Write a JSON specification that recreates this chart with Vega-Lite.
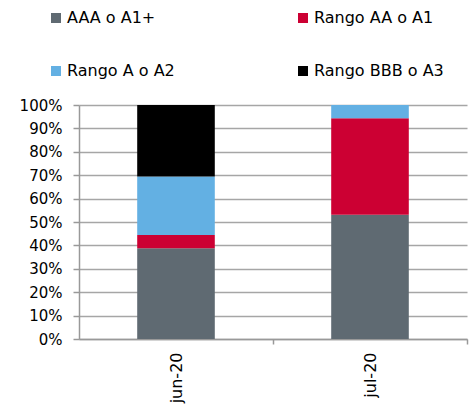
{
  "$schema": "https://vega.github.io/schema/vega-lite/v6.json",
  "width": 388,
  "height": 234,
  "autosize": {"type": "none"},
  "padding": {"left": 79, "top": 105, "right": 2, "bottom": 67},
  "background": "white",
  "config": {
    "view": {"stroke": null},
    "font": "DejaVu Sans"
  },
  "data": {
    "values": [
      {"mes": "jun-20", "rango": "AAA o A1+", "orden": 1, "valor": 0.388},
      {"mes": "jun-20", "rango": "Rango AA o A1", "orden": 2, "valor": 0.056},
      {"mes": "jun-20", "rango": "Rango A o A2", "orden": 3, "valor": 0.250},
      {"mes": "jun-20", "rango": "Rango BBB o A3", "orden": 4, "valor": 0.306},
      {"mes": "jul-20", "rango": "AAA o A1+", "orden": 1, "valor": 0.531},
      {"mes": "jul-20", "rango": "Rango AA o A1", "orden": 2, "valor": 0.412},
      {"mes": "jul-20", "rango": "Rango A o A2", "orden": 3, "valor": 0.057},
      {"mes": "jul-20", "rango": "Rango BBB o A3", "orden": 4, "valor": 0.0}
    ]
  },
  "mark": {"type": "bar"},
  "encoding": {
    "x": {
      "field": "mes",
      "type": "nominal",
      "sort": ["jun-20", "jul-20"],
      "scale": {"paddingInner": 0.6, "paddingOuter": 0.3},
      "axis": {
        "title": null,
        "labelAngle": -90,
        "labelAlign": "right",
        "labelBaseline": "middle",
        "labelFontSize": 16,
        "labelColor": "#000000",
        "labelPadding": 8,
        "labelOffset": -97,
        "ticks": true,
        "tickOffset": 97,
        "tickSize": 5,
        "tickColor": "#999999",
        "tickWidth": 1.5,
        "domainColor": "#999999",
        "domainWidth": 1.5
      }
    },
    "y": {
      "field": "valor",
      "type": "quantitative",
      "stack": "zero",
      "scale": {"domain": [0, 1], "nice": false},
      "axis": {
        "title": null,
        "format": ".0%",
        "values": [0, 0.1, 0.2, 0.3, 0.4, 0.5, 0.6, 0.7, 0.8, 0.9, 1],
        "labelFontSize": 15,
        "labelColor": "#000000",
        "labelPadding": 11,
        "tickSize": 6,
        "tickColor": "#999999",
        "tickWidth": 1.5,
        "domainColor": "#999999",
        "domainWidth": 1.5,
        "gridColor": "#a6a6a6",
        "gridWidth": 1.5
      }
    },
    "color": {
      "field": "rango",
      "type": "nominal",
      "scale": {
        "domain": ["AAA o A1+", "Rango A o A2", "Rango AA o A1", "Rango BBB o A3"],
        "range": ["#5f6a72", "#63b0e3", "#cc0033", "#000000"]
      },
      "legend": {
        "title": null,
        "orient": "none",
        "legendX": -31,
        "legendY": -95,
        "columns": 2,
        "columnPadding": 120,
        "rowPadding": 37,
        "symbolType": "square",
        "symbolSize": 100,
        "symbolStrokeWidth": 0,
        "symbolOffset": 0,
        "labelOffset": 3,
        "labelFontSize": 16,
        "labelColor": "#000000",
        "labelLimit": 300
      }
    },
    "order": {"field": "orden", "type": "quantitative"}
  }
}
